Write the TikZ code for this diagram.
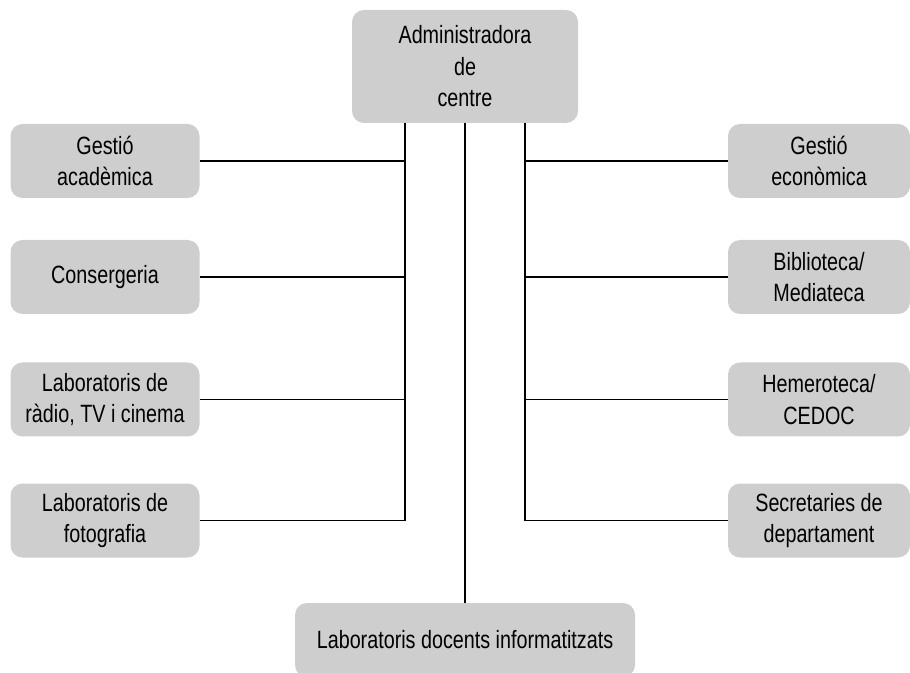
\documentclass[tikz,border=0pt]{standalone}
\usepackage{fontspec}
\setmainfont[FakeStretch=0.79]{Liberation Sans}
\usepackage{xcolor}
\definecolor{caixa}{RGB}{206,206,206}

\begin{document}
\begin{tikzpicture}[x=0.5pt, y=-0.5pt,
    unitat/.style={rectangle, rounded corners=6pt, fill=caixa, align=center,
      inner sep=0pt, font=\fontsize{12.5}{15.75}\selectfont},
    esquerra/.style={unitat, minimum width=94.5pt, minimum height=37pt},
    dreta/.style={unitat, minimum width=91pt, minimum height=37pt},
    linia/.style={line width=0.7pt}]
  \clip (0,0) rectangle (910,673);
  \node[unitat, minimum width=113pt, minimum height=56.5pt] (cap) at (465,66.5) {Administradora\\de\\centre};
  \node[esquerra] (academica) at (105,161) {Gestió\\acadèmica};
  \node[esquerra] (consergeria) at (105,277) {Consergeria};
  \node[esquerra] (radio) at (105,399.5) {Laboratoris de\\ràdio, TV i cinema};
  \node[esquerra] (fotografia) at (105,520.5) {Laboratoris de\\fotografia};
  \node[dreta] (economica) at (819,161) {Gestió\\econòmica};
  \node[dreta] (biblioteca) at (819,277) {Biblioteca/\\Mediateca};
  \node[dreta] (hemeroteca) at (819,399.5) {Hemeroteca/\\CEDOC};
  \node[dreta] (secretaries) at (819,520.5) {Secretaries de\\departament};
  \node[unitat, minimum width=170pt, minimum height=37pt] (docents) at (465,640) {Laboratoris docents informatitzats};

  \coordinate (nusE) at (405,123);
  \coordinate (nusD) at (525,123);

  \draw[linia] (nusE) |- (fotografia.east);
  \draw[linia] (academica.east) -- (academica.east -| nusE);
  \draw[linia] (consergeria.east) -- (consergeria.east -| nusE);
  \draw[linia] (radio.east) -- (radio.east -| nusE);
  \draw[linia] (nusD) |- (secretaries.west);
  \draw[linia] (economica.west) -- (economica.west -| nusD);
  \draw[linia] (biblioteca.west) -- (biblioteca.west -| nusD);
  \draw[linia] (hemeroteca.west) -- (hemeroteca.west -| nusD);
  \draw[linia] (cap.south) -- (docents.north);
\end{tikzpicture}
\end{document}
